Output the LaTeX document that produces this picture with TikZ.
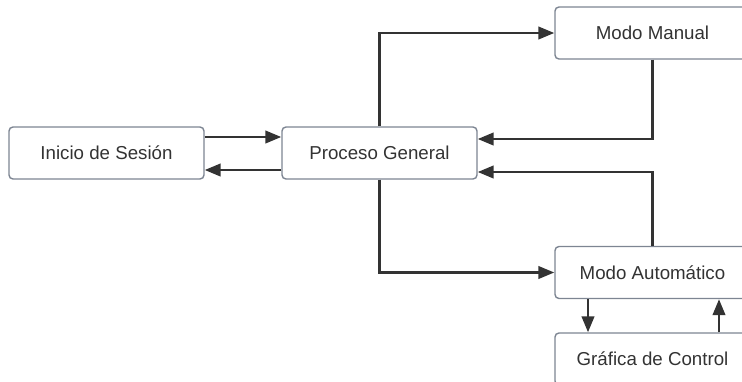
\documentclass[tikz,border=0pt]{standalone}
\usepackage{fontspec}
\setmainfont{Liberation Sans}
\usetikzlibrary{arrows.meta}
\definecolor{boxline}{HTML}{7D8592}
\definecolor{ink}{HTML}{333333}
\begin{document}
\begin{tikzpicture}[x=1pt,y=-1pt,
  stage/.style={draw=boxline, line width=1.4pt, rounded corners=4pt, fill=white,
    minimum width=195pt, minimum height=52pt, inner sep=0pt,
    font=\fontsize{18.7}{22}\selectfont, text=ink},
  conn/.style={draw=ink, line width=2.6pt,
    -{Triangle[length=16pt,width=12.5pt]}}]
\useasboundingbox (0,0) rectangle (742,381);
% blocks
\node[stage] (ini) at (106.5,153) {Inicio de Sesión};
\node[stage] (pg)  at (379.5,153) {Proceso General};
\node[stage] (mm)  at (652.5,33)  {Modo Manual};
\node[stage] (ma)  at (652.5,272.5) {Modo Automático};
\node[stage] (gc)  at (652.5,359) {Gráfica de Control};
% login <-> general process
\draw[conn] ([yshift=16pt]ini.east) -- ([yshift=16pt]pg.west);
\draw[conn] ([yshift=-17pt]pg.west) -- ([yshift=-17pt]ini.east);
% general process <-> manual mode
\draw[conn] (pg.north) |- (mm.west);
\draw[conn] (mm.south) |- ([yshift=14pt]pg.east);
% general process <-> automatic mode
\draw[conn] (pg.south) |- (ma.west);
\draw[conn] (ma.north) |- ([yshift=-19pt]pg.east);
% automatic mode <-> control chart
\draw[conn] ([xshift=-64.5pt]ma.south) -- ([xshift=-64.5pt]gc.north);
\draw[conn] ([xshift=66.5pt]gc.north) -- ([xshift=66.5pt]ma.south);
\end{tikzpicture}
\end{document}
